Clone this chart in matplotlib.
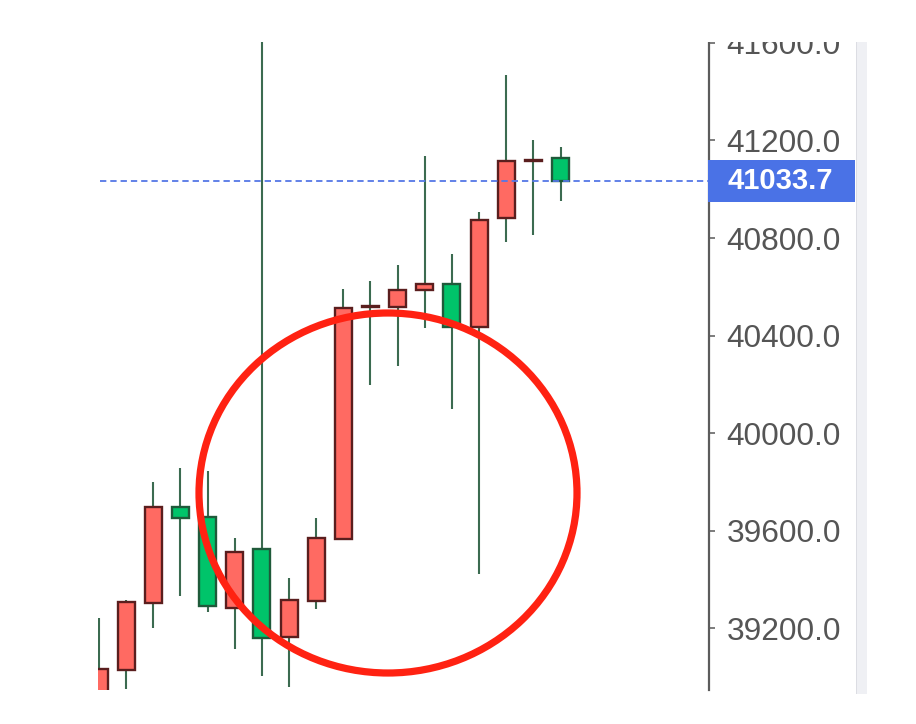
import matplotlib
matplotlib.use("Agg")
import matplotlib.pyplot as plt
from matplotlib.patches import Rectangle, Ellipse
from matplotlib.ticker import FormatStrFormatter
import matplotlib.transforms as mtransforms

plt.rcParams['font.family'] = ['Liberation Sans', 'DejaVu Sans']

# ---- data ----
opens  = [38880, 39027, 39303, 39697, 39656, 39282, 39525, 39163, 39311,
          39566, 40517, 40519, 40585, 40610, 40433, 40881, 41117, 41128]
highs  = [39241, 39315, 39800, 39858, 39845, 39570, 41700, 39406, 39652,
          40589, 40622, 40688, 41136, 40733, 40906, 41469, 41202, 41173]
lows   = [38850, 38949, 39200, 39332, 39266, 39114, 39003, 38958, 39278,
          39560, 40199, 40273, 40429, 40100, 39422, 40782, 40813, 40953]
closes = [39031, 39307, 39697, 39652, 39290, 39512, 39159, 39315, 39570,
          40511, 40521, 40585, 40610, 40433, 40873, 41115, 41121, 41033.7]
last_price = 41033.7
y_ticks = [39200, 39600, 40000, 40400, 40800, 41200, 41600]

W, H = 916, 724
fig = plt.figure(figsize=(W / 100, H / 100), dpi=100)
fig.patch.set_facecolor('white')

ax_l, ax_r, ax_t, ax_b = 98, 709, 42, 690
ax = fig.add_axes([ax_l / W, 1 - ax_b / H, (ax_r - ax_l) / W, (ax_b - ax_t) / H])
ax.set_facecolor('white')

up_fill, up_edge = '#ff6a62', '#5a1e1e'
dn_fill, dn_edge = '#00c46a', '#1f5a3a'
wick_c = '#3b6b50'
bw = 0.626

for i, (o, h, l, c) in enumerate(zip(opens, highs, lows, closes)):
    ax.vlines(i, l, h, color=wick_c, linewidth=1.5, zorder=2)
    up = c >= o
    ax.add_patch(Rectangle((i - bw / 2, min(o, c)), bw, abs(c - o),
                           facecolor=up_fill if up else dn_fill,
                           edgecolor=up_edge if up else dn_edge,
                           linewidth=1.7, zorder=3))

ax.axhline(last_price, xmin=0.003, color='#5577e6', linewidth=1.3,
           linestyle=(0, (3.5, 2.2)), zorder=4)

ax.set_xlim(-0.037, 22.47)
ax.set_ylim(38946, 41604)

for s in ['top', 'left', 'bottom']:
    ax.spines[s].set_visible(False)
ax.spines['right'].set_color('#5c5c5c')
ax.spines['right'].set_linewidth(1.6)
ax.set_xticks([])
ax.yaxis.tick_right()
ax.set_yticks(y_ticks)
ax.yaxis.set_major_formatter(FormatStrFormatter('%.1f'))
ax.tick_params(axis='y', direction='out', length=4.5, width=1.2, color='#666666',
               labelsize=22.8, labelcolor='#555555', pad=8)

# last price label box
trans = mtransforms.blended_transform_factory(ax.transAxes, ax.transData)
px = 1 / (ax_r - ax_l)
ax.add_patch(Rectangle((0.998, last_price - 86), (855 - 708) * px, 172,
                       transform=trans, facecolor='#4a72e6', edgecolor='none',
                       clip_on=False, zorder=5))
ax.text((727 - ax_l) * px, last_price, f'{last_price:.1f}', transform=trans,
        color='white', fontsize=21, fontweight='bold', va='center', ha='left',
        zorder=6, clip_on=False)

# right grey strip
fig.add_artist(Rectangle((856 / W, 1 - 694 / H), 11 / W, (694 - 42) / H,
                         transform=fig.transFigure, facecolor='#eff0f4',
                         edgecolor='none', zorder=1))
fig.add_artist(Rectangle((855.5 / W, 1 - 694 / H), 1 / W, (694 - 42) / H,
                         transform=fig.transFigure, facecolor='#dcdde3',
                         edgecolor='none', zorder=1))

# clip the top of the canvas
fig.add_artist(Rectangle((0, 1 - 42 / H), 1, 42 / H, transform=fig.transFigure,
                         facecolor='white', edgecolor='none', zorder=10))

# red circle annotation
fig.add_artist(Ellipse((388 / W, 1 - 493 / H), 378 / W, 360 / H,
                       transform=fig.transFigure, facecolor='none',
                       edgecolor='#ff2212', linewidth=5.2, zorder=11))

fig.savefig('out.png', dpi=100, facecolor='white')
